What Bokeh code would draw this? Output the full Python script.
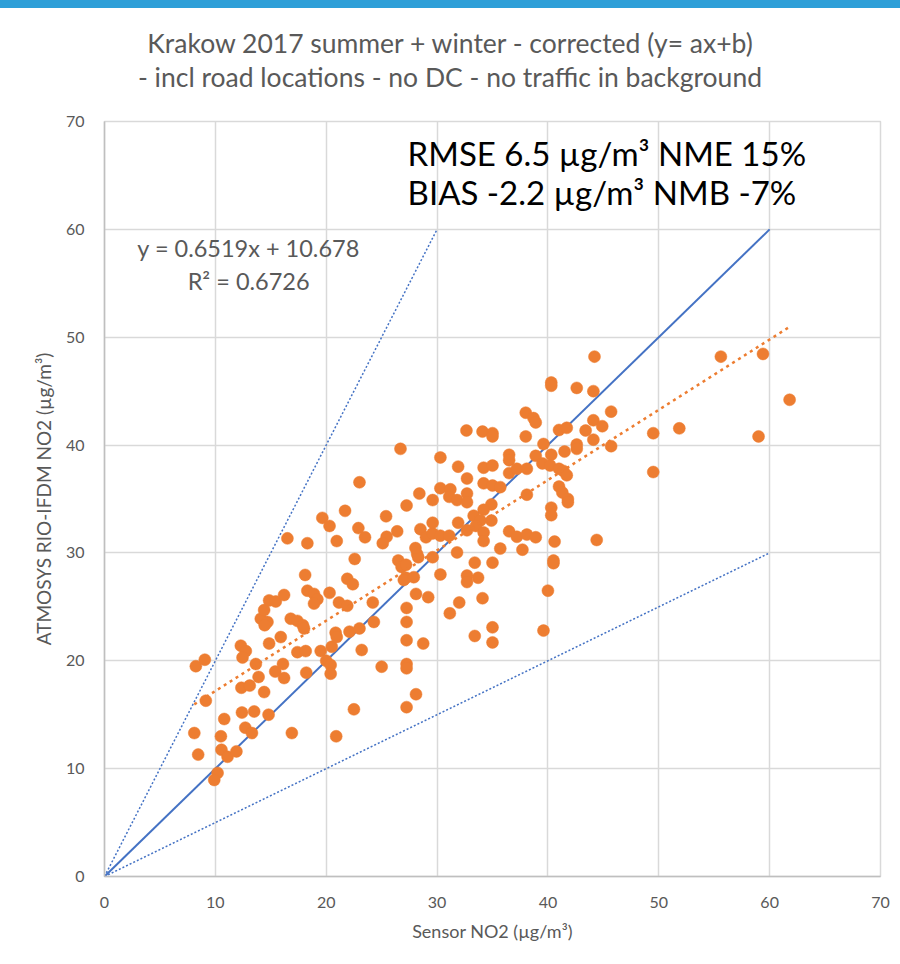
from bokeh.plotting import figure
from bokeh.models import Range1d, FixedTicker, Label, Div, ColumnDataSource
from bokeh.layouts import column
from bokeh.embed import file_html
from bokeh.resources import INLINE

# Sensor NO2 (x) vs ATMOSYS RIO-IFDM NO2 (y), µg/m³
sensor_no2 = [
    8.24, 9.05, 9.14, 8.1, 8.45, 10.8, 10.5, 10.55, 11.1, 11.9, 10.2, 9.9, 12.4, 13.5, 14.8, 12.7, 13.3, 16.9,
    12.35, 13.1, 14.4, 13.9, 13.65, 12.3, 12.75, 12.45, 14.85, 15.9, 15.4, 16.1, 16.2, 14.1, 14.7, 14.45, 14.4,
    14.85, 15.45, 16.2, 16.5,
    16.8, 17.4, 17.9, 18.0, 17.4, 18.15, 18.2, 19.5, 20.5, 20.0, 20.4, 20.4, 20.9, 22.5, 20.85, 20.95, 22.1, 23.0,
    23.2, 25.0, 24.2, 24.3, 21.15, 21.9, 18.3, 18.9, 19.2, 18.9, 20.3, 18.1, 21.9, 22.4, 22.57, 18.3, 20.95, 19.65,
    20.3, 21.7, 23.0, 22.9, 23.5, 25.4, 25.45, 25.1,
    26.4, 26.7, 27.25, 26.5, 26.8, 27.2, 27.0, 27.9, 27.2, 28.2, 28.3, 28.05, 28.1, 29.2, 27.25, 27.25, 27.25, 28.75,
    27.25, 27.25, 28.1, 27.25, 28.4, 29.6, 28.5, 29.0, 29.6, 29.6, 29.6,
    30.3, 30.3, 31.2, 30.3, 31.1, 30.3, 31.9, 32.7, 31.1, 31.8, 32.7, 32.7, 31.9, 32.7, 31.8, 32.7, 32.7, 33.7, 32.0,
    31.15, 34.1, 33.4, 35.0, 35.0, 33.4, 35.0, 32.65, 34.1, 35.0, 35.0, 34.2, 35.0, 34.2, 35.0, 35.7, 34.9, 34.2,
    33.3, 33.9, 33.5, 34.9, 34.2, 34.2, 35.7,
    36.5, 36.5, 36.5, 37.2, 38.1, 36.5, 37.2, 38.1, 38.9, 37.7, 38.0, 38.7, 38.9, 38.0, 38.9, 39.6, 40.3, 41.5, 39.5,
    40.2, 41.0, 41.4, 41.7, 38.1, 41.0, 41.3, 41.8, 41.8, 40.3, 40.3, 40.6, 40.5, 40.5, 40.0, 39.6, 40.3, 40.3, 41.0,
    41.7,
    42.6, 44.1, 44.2, 44.1, 43.4, 44.1, 42.6, 42.6, 45.7, 44.9, 45.7, 44.4, 49.5, 51.85, 49.5, 55.6, 59.4, 59.0, 61.8,
]
model_no2 = [
    19.5, 20.1, 16.3, 13.3, 11.3, 14.6, 13.0, 11.75, 11.1, 11.6, 9.6, 8.95, 15.2, 15.3, 15.0, 13.8, 13.3, 13.3,
    17.5, 17.7, 17.1, 18.5, 19.7, 21.4, 20.9, 20.3, 21.6, 22.2, 19.0, 19.7, 18.4, 23.9, 23.6, 23.3, 24.7,
    25.6, 25.5, 26.1, 31.35,
    23.9, 23.7, 23.3, 23.0, 20.8, 20.9, 18.9, 20.9, 21.3, 20.0, 19.6, 18.8, 13.0, 15.5, 22.6, 22.2, 22.7, 23.0,
    21.0, 19.45, 25.4, 23.6, 25.4, 25.1, 26.5, 26.2, 25.7, 25.3, 26.3, 27.96, 27.6, 27.1, 29.44, 30.9, 31.1, 33.25,
    32.5, 33.9, 36.55, 32.3, 31.45, 33.4, 31.5, 30.9,
    32.0, 39.65, 34.4, 29.3, 28.7, 27.7, 27.5, 27.75, 28.9, 29.9, 29.6, 30.45, 26.2, 25.9, 24.9, 23.6, 21.9, 21.6,
    19.7, 19.3, 16.9, 15.7, 35.5, 34.9, 32.2, 31.45, 31.8, 32.8, 29.6,
    38.85, 36.0, 35.9, 31.6, 31.6, 28.0, 38.0, 36.9, 35.2, 34.9, 35.5, 34.7, 32.8, 32.1, 30.05, 27.9, 27.3, 27.7, 25.4,
    24.4, 25.8, 22.3, 23.1, 21.7, 29.1, 29.1, 41.35, 41.25, 41.1, 40.8, 37.9, 38.1, 36.45, 36.25, 36.1, 34.5, 34.0,
    33.45, 33.0, 32.5, 33.0, 31.9, 31.1, 30.4,
    39.1, 38.6, 37.4, 37.8, 37.8, 32.0, 31.5, 31.7, 31.45, 30.3, 43.0, 42.5, 42.1, 40.8, 39.0, 40.1, 39.1, 39.4, 38.3,
    38.1, 37.8, 37.6, 37.2, 35.4, 36.15, 35.6, 35.0, 34.7, 34.2, 33.5, 31.05, 29.3, 29.05, 26.5, 22.8, 45.8, 45.5, 41.4,
    41.6,
    45.3, 45.0, 48.2, 42.3, 41.35, 40.5, 40.05, 39.65, 43.1, 41.75, 39.9, 31.2, 41.1, 41.55, 37.5, 48.2, 48.45, 40.8, 44.2,
]

# trend line y = a x + b
trend_a = 0.6519
trend_b = 10.678
ref_x = [0, 60]
ref_1to1 = [0, 60]
ref_double_x = [0, 30]
ref_double_y = [0, 60]
ref_half_x = [0, 60]
ref_half_y = [0, 30]

title_line1 = "Krakow 2017 summer + winter - corrected (y= ax+b)"
title_line2 = "- incl road locations - no DC - no traffic in background"
x_label = "Sensor NO2 (µg/m³)"
y_label = "ATMOSYS RIO-IFDM NO2 (µg/m³)"
stats_line1 = "RMSE 6.5 µg/m³ NME 15%"
stats_line2 = "BIAS -2.2 µg/m³ NMB -7%"
eq_text = "y = 0.6519x + 10.678"
r2_text = "R² = 0.6726"
ticks = [0, 10, 20, 30, 40, 50, 60, 70]

FONT = "Lato"
GRAY = "#595959"
BLUE = "#4472C4"
ORANGE = "#ED7D31"

p = figure(width=900, height=864, output_backend="svg", toolbar_location=None,
           x_range=Range1d(0, 70), y_range=Range1d(0, 70),
           min_border_left=104, min_border_right=20, min_border_bottom=88, min_border_top=21)
p.title = None

for ax in (p.xaxis, p.yaxis):
    ax.ticker = FixedTicker(ticks=ticks)
    ax.major_tick_line_color = None
    ax.minor_tick_line_color = None
    ax.axis_line_color = "#BFBFBF"
    ax.axis_line_width = 1.5
    ax.major_label_text_font = FONT
    ax.major_label_text_font_size = "16px"
    ax.major_label_text_color = GRAY
    ax.axis_label_text_font = FONT
    ax.axis_label_text_color = GRAY
    ax.axis_label_text_font_style = "normal"

p.xaxis.axis_label = x_label
p.yaxis.axis_label = y_label
p.xaxis.axis_label_text_font_size = "18px"
p.yaxis.axis_label_text_font_size = "19px"
p.xaxis.major_label_standoff = 14
p.xaxis.axis_label_standoff = 9
p.yaxis.major_label_standoff = 14
p.yaxis.axis_label_standoff = 8

p.xgrid.grid_line_color = "#D9D9D9"
p.ygrid.grid_line_color = "#D9D9D9"
p.xgrid.grid_line_width = 1.5
p.ygrid.grid_line_width = 1.5
p.outline_line_color = "#D9D9D9"
p.outline_line_width = 1.5
p.background_fill_color = "white"
p.border_fill_color = "white"

# reference lines
p.line(ref_x, ref_1to1, line_color=BLUE, line_width=2)
p.line(ref_double_x, ref_double_y, line_color=BLUE, line_width=1.5, line_dash="2 2")
p.line(ref_half_x, ref_half_y, line_color=BLUE, line_width=1.5, line_dash="2 2")

# points
src = ColumnDataSource(dict(x=sensor_no2, y=model_no2))
p.scatter("x", "y", source=src, size=12, fill_color=ORANGE, line_color=ORANGE, line_width=0.5)

# trend line
tx = [min(sensor_no2), max(sensor_no2)]
ty = [trend_a * v + trend_b for v in tx]
p.line(tx, ty, line_color=ORANGE, line_width=2.5, line_dash="3 4")

p.add_layout(Label(x=27.34, y=67.1, text=stats_line1, text_font=FONT, text_font_size="33px",
                   text_color="black", text_baseline="middle", text_align="left"))
p.add_layout(Label(x=27.34, y=63.5, text=stats_line2, text_font=FONT, text_font_size="33px",
                   text_color="black", text_baseline="middle", text_align="left"))
p.add_layout(Label(x=13.0, y=58.3, text=eq_text, text_font=FONT, text_font_size="23.5px",
                   text_color=GRAY, text_baseline="middle", text_align="center"))
p.add_layout(Label(x=13.0, y=55.2, text=r2_text, text_font=FONT, text_font_size="23.5px",
                   text_color=GRAY, text_baseline="middle", text_align="center"))

bar = Div(text="", width=900, height=8, margin=0, styles={"background-color": "#2E9FD8"})
title_html = (
    '<div style="font-family:Lato; font-size:26.5px; color:#595959; text-align:center; '
    'line-height:34px; padding-top:18px; padding-left:34px; width:866px; white-space:nowrap;">'
    + title_line1 + "<br>" + title_line2 + "</div>"
)
title_div = Div(text=title_html, width=900, height=92, margin=0,
                styles={"background-color": "white"})
layout = column(bar, title_div, p, spacing=0)

open("out.html", "w").write(file_html(layout, INLINE))
